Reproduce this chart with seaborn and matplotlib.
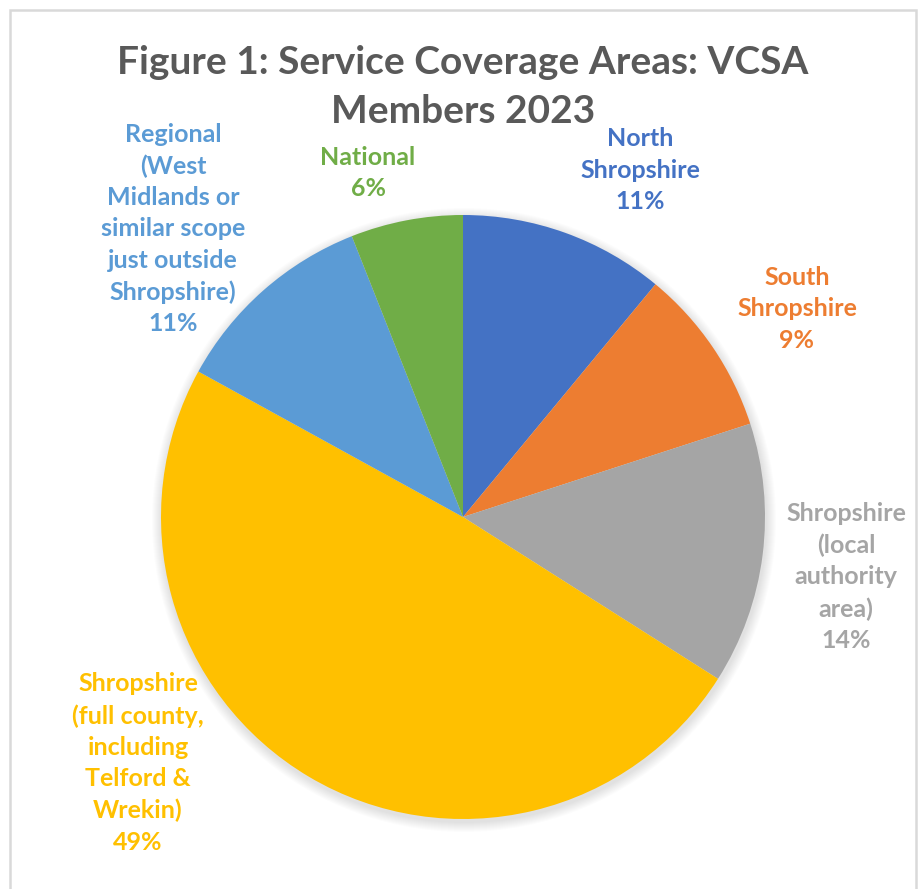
import matplotlib
matplotlib.use("Agg")
import matplotlib.pyplot as plt
from matplotlib.patches import Rectangle, Circle
import seaborn as sns

# Service coverage shares, clockwise from 12 o'clock
categories = [
    "North\nShropshire",
    "South\nShropshire",
    "Shropshire\n(local\nauthority\narea)",
    "Shropshire\n(full county,\nincluding\nTelford &\nWrekin)",
    "Regional\n(West\nMidlands or\nsimilar scope\njust outside\nShropshire)",
    "National",
]
shares = [11, 9, 14, 49, 11, 6]
colors = ["#4472C4", "#ED7D31", "#A5A5A5", "#FFC000", "#5B9BD5", "#70AD47"]
title = "Figure 1: Service Coverage Areas: VCSA\nMembers 2023"

# label anchor points (canvas pixels, measured from top-left)
label_xy = [(640, 170), (797, 309), (846, 577), (138, 763), (173, 229), (368, 173)]

W, H = 924, 889
sns.set_theme(style="white")
plt.rcParams["font.family"] = ["Lato", "DejaVu Sans"]

fig = plt.figure(figsize=(W / 100, H / 100), dpi=100)
ax = fig.add_axes([0, 0, 1, 1])

cx, cy, r = 463, H - 517, 302

# soft drop shadow under the pie
for k in range(10):
    ax.add_patch(Circle((cx + 1, cy - 3), r + 10 - k, color="#000000",
                        alpha=0.012, lw=0, zorder=1))

ax.pie(shares, colors=colors, startangle=90, counterclock=False,
       center=(cx, cy), radius=r, frame=True,
       wedgeprops=dict(linewidth=0, zorder=2))
ax.set_xlim(0, W)
ax.set_ylim(0, H)
ax.set_aspect("equal")
ax.axis("off")

for name, val, col, (lx, ly) in zip(categories, shares, colors, label_xy):
    ax.text(lx, H - ly, f"{name}\n{val}%", color=col, fontsize=18,
            fontweight="bold", ha="center", va="center", linespacing=1.44,
            zorder=5)

ax.text(W / 2 + 1, H - 87, title, color="#595959", fontsize=28,
        fontweight="bold", ha="center", va="center", linespacing=1.5, zorder=5)

# chart-area frame
ax.add_patch(Rectangle((10, -20), 906, H - 10 + 20, fill=False,
                       edgecolor="#D9D9D9", lw=1.8, zorder=6))

fig.savefig("out.png", dpi=100)
